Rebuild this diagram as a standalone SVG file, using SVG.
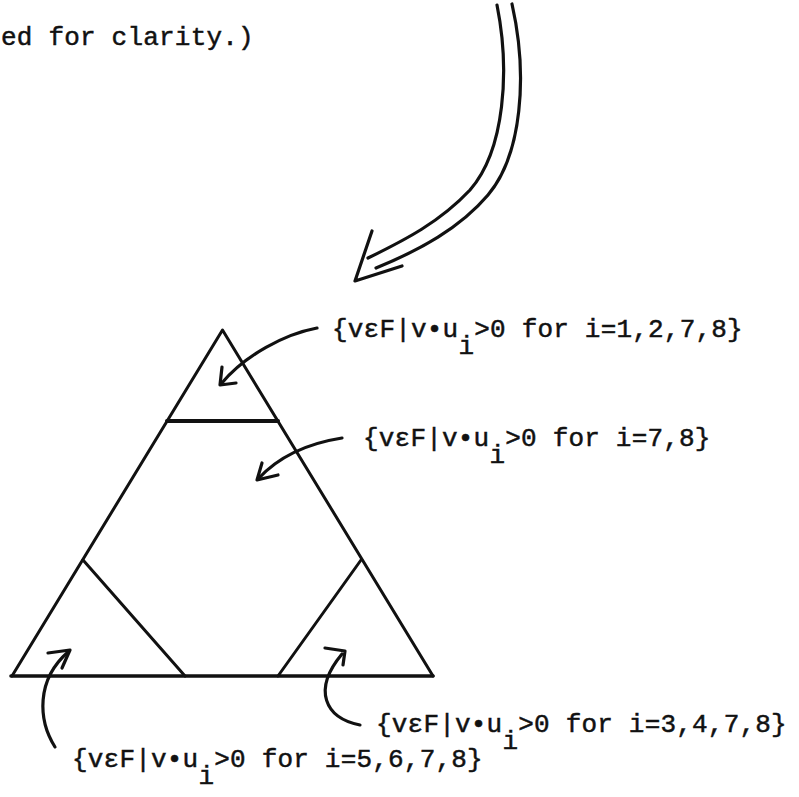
<svg xmlns="http://www.w3.org/2000/svg" width="799" height="797" viewBox="0 0 799 797">
<style>
.t{font-family:"Liberation Mono","Courier New",monospace;font-size:26px;letter-spacing:0.2px;fill:#111;stroke:#111;stroke-width:0.5}
.ln{stroke:#111;stroke-width:3;fill:none;stroke-linecap:round;stroke-linejoin:round}
.ar{stroke:#111;stroke-width:3.2;fill:none;stroke-linecap:round;stroke-linejoin:round}
</style>
<rect width="799" height="797" fill="#fff"/>
<text class="t" x="1" y="45">ed for clarity.)</text>
<g id="triangle">
<path class="ln" d="M12,676 L222.5,330 L433,676"/>
<path class="ln" d="M11,676 L433,676" style="stroke-width:3.6"/>
<path class="ln" d="M167,421 L278,421" style="stroke-width:4"/>
<path class="ln" d="M83,560 L185,676"/>
<path class="ln" d="M361,560 L278,676"/>
</g>
<g id="label-top">
<text class="t" x="332" y="337">{vεF|v•u<tspan dy="17">i</tspan><tspan dy="-17">&gt;0 for i=1,2,7,8}</tspan></text>
</g>
<g id="label-middle">
<text class="t" x="363" y="446">{vεF|v•u<tspan dy="17">i</tspan><tspan dy="-17">&gt;0 for i=7,8}</tspan></text>
</g>
<g id="label-right">
<text class="t" x="376" y="732">{vεF|v•u<tspan dy="17">i</tspan><tspan dy="-17">&gt;0 for i=3,4,7,8}</tspan></text>
</g>
<g id="label-left">
<text class="t" x="72" y="767">{vεF|v•u<tspan dy="17">i</tspan><tspan dy="-17">&gt;0 for i=5,6,7,8}</tspan></text>
</g>
<g id="connectors">
<path class="ar" d="M497,5 C510,70 505,150 470,190 C440,222 405,240 368,258"/>
<path class="ar" d="M512,4 C528,75 522,155 488,195 C460,228 420,250 376,268"/>
<path class="ar" d="M372,231 L355,281 L402,266"/>
<path class="ar" d="M317,328 C285,334 245,355 221,384"/>
<path class="ar" d="M222,367 L220,385 L236,383"/>
<path class="ar" d="M342,438 C310,443 280,455 258,479"/>
<path class="ar" d="M262,463 L257,480 L278,475"/>
<path class="ar" d="M55,747 C38,720 36,680 68,652"/>
<path class="ar" d="M48,653 L70,650 L62,668"/>
<path class="ar" d="M360,725 C325,718 312,690 342,654"/>
<path class="ar" d="M325,648 L345,651 L343,665"/>
</g>
</svg>
